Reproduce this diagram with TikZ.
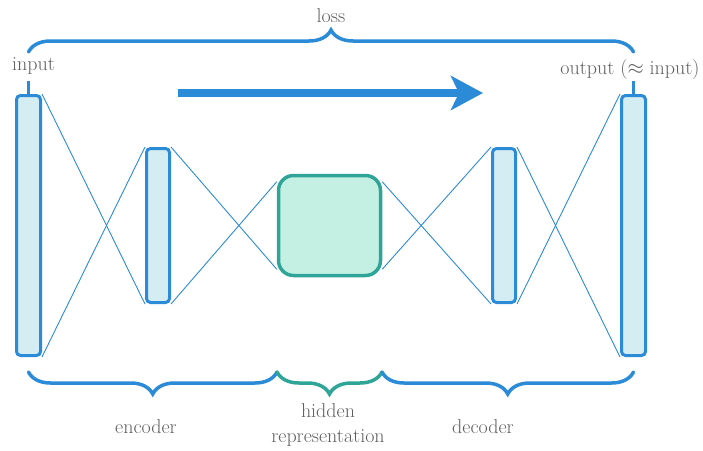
\documentclass[tikz,border=0pt]{standalone}
\usepackage{fontspec}
\usetikzlibrary{decorations.pathreplacing,arrows.meta,backgrounds}
\definecolor{ablue}{RGB}{43,139,214}
\definecolor{barfill}{RGB}{211,237,242}
\definecolor{teal2}{RGB}{46,165,151}
\definecolor{tealfill}{RGB}{196,240,228}
\definecolor{txtgray}{RGB}{95,95,95}
\tikzset{
  bar/.style={draw=ablue, fill=barfill, line width=3pt, rounded corners=4pt, inner sep=0pt},
  hid/.style={draw=teal2, fill=tealfill, line width=3.5pt, rounded corners=15pt, inner sep=0pt, minimum width=102pt, minimum height=100pt},
  conn/.style={draw=ablue, line width=0.9pt},
  lbl/.style={text=txtgray, font=\fontsize{20}{25}\selectfont, inner sep=0pt, align=center},
  br/.style={draw=ablue, line width=3.5pt, line cap=round, decorate, decoration={brace, amplitude=22pt}},
  stub/.style={draw=ablue, line width=3pt},
}
\begin{document}
\begin{tikzpicture}[x=1pt,y=-1pt]
\useasboundingbox (0,0) rectangle (703,450);
% bars
\node[bar, minimum width=24pt, minimum height=260pt] (in) at (28.5,225.5) {};
\node[bar, minimum width=23pt, minimum height=154pt] (enc) at (158,225.5) {};
\node[hid] (hid) at (329.5,225.5) {};
\node[bar, minimum width=23pt, minimum height=154pt] (dec) at (504,225.5) {};
\node[bar, minimum width=24pt, minimum height=260pt] (out) at (633.5,225.5) {};
% connectors
\begin{scope}[on background layer]
\draw[conn] (in.north east) -- (enc.south west);
\draw[conn] (in.south east) -- (enc.north west);
\draw[conn] (enc.north east) -- ([shift={(0,-8)}]hid.south west);
\draw[conn] (enc.south east) -- ([shift={(0,8)}]hid.north west);
\draw[conn] ([shift={(0,8)}]hid.north east) -- (dec.south west);
\draw[conn] ([shift={(0,-8)}]hid.south east) -- (dec.north west);
\draw[conn] (dec.north east) -- (out.south west);
\draw[conn] (dec.south east) -- (out.north west);
\end{scope}
% labels
\node[lbl] (inlbl) at (33.5,66) {input};
\node[lbl] (outlbl) at (630,70) {output ($\approx$ input)};
\node[lbl] (loss) at (331,16) {loss};
\node[lbl] (enclbl) at (146,427) {encoder};
\node[lbl] (hidlbl) at (328,425) {hidden\\representation};
\node[lbl] (declbl) at (483,427) {decoder};
% stubs
\coordinate (instub) at (28.5,81);
\coordinate (outstub) at (633.5,81);
\draw[stub] (instub) -- (in.north);
\draw[stub] (outstub) -- (out.north);
% braces
\coordinate (tl) at (28.5,52);
\coordinate (tr) at (633.5,52);
\draw[br] (tl) -- (tr);
\coordinate (bl) at (28.5,372);
\coordinate (bm1) at (277,372);
\coordinate (bm2) at (382,372);
\coordinate (br) at (633.5,372);
\draw[br] (bm1) -- (bl);
\draw[br, draw=teal2] (bm2) -- (bm1);
\draw[br] (br) -- (bm2);
% arrow
\coordinate (as) at (178,93);
\coordinate (ae) at (483,93);
\draw[draw=ablue, line width=8pt, -{Stealth[length=32pt,width=34pt,inset=8pt]}] (as) -- (ae);
\end{tikzpicture}
\end{document}
